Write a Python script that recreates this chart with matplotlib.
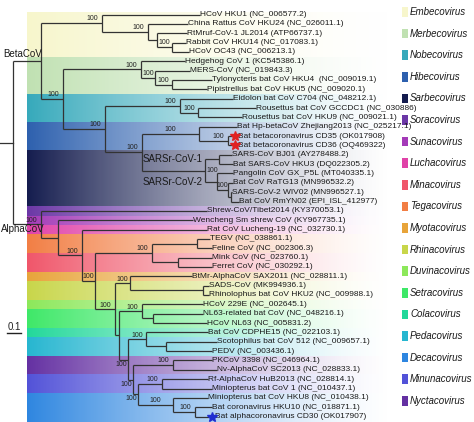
import matplotlib.pyplot as plt
import numpy as np
from matplotlib.colors import to_rgb
from matplotlib.patches import Rectangle

plt.rcParams['font.family'] = ['Liberation Sans', 'DejaVu Sans']

# tips, top to bottom
leaf_names = [
    "HCoV HKU1 (NC_006577.2)", "China Rattus CoV HKU24 (NC_026011.1)",
    "RtMruf-CoV-1 JL2014 (ATP66737.1)", "Rabbit CoV HKU14 (NC_017083.1)",
    "HCoV OC43 (NC_006213.1)", "Hedgehog CoV 1 (KC545386.1)",
    "MERS-CoV (NC_019843.3)", "Tylonycteris bat CoV HKU4  (NC_009019.1)",
    "Pipistrellus bat CoV HKU5 (NC_009020.1)", "Eidolon bat CoV C704 (NC_048212.1)",
    "Rousettus bat CoV GCCDC1 (NC_030886)", "Rousettus bat CoV HKU9 (NC_009021.1)",
    "Bat Hp-betaCoV Zhejiang2013 (NC_025217.1)", "Bat betacoronavirus CD35 (OK017908)",
    "Bat betacoronavirus CD36 (OQ469322)", "SARS-CoV BJ01 (AY278488.2)",
    "Bat SARS-CoV HKU3 (DQ022305.2)", "Pangolin CoV GX_P5L (MT040335.1)",
    "Bat CoV RaTG13 (MN996532.2)", "SARS-CoV-2 WIV02 (MN996527.1)",
    "Bat CoV RmYN02 (EPI_ISL_412977)", "Shrew-CoV/Tibet2014 (KY370053.1)",
    "Wencheng Sm shrew CoV (KY967735.1)", "Rat CoV Lucheng-19 (NC_032730.1)",
    "TEGV (NC_038861.1)", "Feline CoV (NC_002306.3)",
    "Mink CoV (NC_023760.1)", "Ferret CoV (NC_030292.1)",
    "BtMr-AlphaCoV SAX2011 (NC_028811.1)", "SADS-CoV (MK994936.1)",
    "Rhinolophus bat CoV HKU2 (NC_009988.1)", "HCoV 229E (NC_002645.1)",
    "NL63-related bat CoV (NC_048216.1)", "HCoV NL63 (NC_005831.2)",
    "Bat CoV CDPHE15 (NC_022103.1)", "Scotophilus bat CoV 512 (NC_009657.1)",
    "PEDV (NC_003436.1)", "PKCoV 3398 (NC_046964.1)",
    "Nv-AlphaCoV SC2013 (NC_028833.1)", "Rf-AlphaCoV HuB2013 (NC_028814.1)",
    "Miniopterus bat CoV 1 (NC_010437.1)", "Miniopterus bat CoV HKU8 (NC_010438.1)",
    "Bat coronavirus HKU10 (NC_018871.1)", "Bat alphacoronavirus CD30 (OK017907)",
]
# tip depth (scale bar 0.1 = 14 units)
leaf_tip = [200, 188, 187, 186, 189, 185, 190, 212, 207, 233, 256, 242, 237, 233, 233,
            232, 233, 233, 233, 232, 239,
            207, 193, 207, 210, 212, 212, 212, 192, 209, 209, 203, 203, 207, 208, 217,
            212, 212, 217, 208, 212, 208, 212, 210]
leaf_group = (['Embecovirus'] * 5 + ['Merbecovirus'] * 4 + ['Nobecovirus'] * 3 +
              ['Hibecovirus'] * 3 + ['Sarbecovirus'] * 6 +
              ['Soracovirus', 'Sunacovirus', 'Luchacovirus', 'Tegacovirus', 'Tegacovirus',
               'Minacovirus', 'Minacovirus', 'Myotacovirus', 'Rhinacovirus', 'Rhinacovirus',
               'Duvinacovirus', 'Setracovirus', 'Setracovirus', 'Colacovirus',
               'Pedacovirus', 'Pedacovirus', 'Nyctacovirus', 'Nyctacovirus',
               'Minunacovirus', 'Minunacovirus', 'Decacovirus', 'Decacovirus', 'Decacovirus'])
star_leaves = {13: '#e02222', 14: '#e02222', 43: '#1f2fd0'}

# internal nodes: depth, children, bootstrap label ('a' above, 'm' mid, 'b' below, 'r' right)
nodes = {
    'root': (13, ['beta', 'alpha'], None),
    'beta': (41, ['embe', 'b2'], None),
    'embe': (102, [0, 'e1'], 'a'),
    'e1': (148, [1, 'e2'], 'a'),
    'e2': (157, [2, 'e3'], None),
    'e3': (172, [3, 4], 'a'),
    'b2': (63, ['merb', 'b3'], 'a'),
    'merb': (141, [5, 'm1'], 'a'),
    'm1': (155, [6, 'm2'], 'a'),
    'm2': (172, [7, 8], 'a'),
    'b3': (105, ['nobe', 'b4'], 'a'),
    'nobe': (180, [9, 'n1'], 'a'),
    'n1': (198, [10, 11], 'a'),
    'b4': (142, ['hibe', 'sarb'], 'a'),
    'hibe': (199, [12, 'h1'], 'm'),
    'h1': (228, [13, 14], 'a'),
    'sarb': (205, ['s1', 's2'], 'r'),
    's1': (219, [15, 16], None),
    's2': (217, [17, 's3'], None),
    's3': (228, [18, 's4'], 'a'),
    's4': (231, [19, 20], None),
    'alpha': (41, [21, 'a1'], 'a'),
    'a1': (58, [22, 'a2'], None),
    'a2': (82, [23, 'a3'], 'a'),
    'a3': (95, ['a4', 'x'], 'a'),
    'a4': (152, ['tega', 'mina'], 'a'),
    'tega': (197, [24, 25], None),
    'mina': (178, [26, 27], None),
    'x': (115, ['myrh', 'y'], 'a'),
    'myrh': (130, [28, 'rhin'], 'a'),
    'rhin': (203, [29, 30], None),
    'y': (119, ['duse', 'z'], None),
    'duse': (142, [31, 'setr'], 'a'),
    'setr': (153, [32, 33], None),
    'z': (128, ['colp', 'w'], 'b'),
    'colp': (146, [34, 'peda'], 'a'),
    'peda': (166, [35, 36], None),
    'w': (133, ['nyct', 'v'], 'b'),
    'nyct': (173, [37, 38], 'a'),
    'v': (138, ['minu', 'deca'], 'b'),
    'minu': (162, [39, 40], 'a'),
    'deca': (173, [41, 'd1'], 'm'),
    'd1': (195, [42, 43], 'a'),
}

legend_names = ['Embecovirus', 'Merbecovirus', 'Nobecovirus', 'Hibecovirus', 'Sarbecovirus',
                'Soracovirus', 'Sunacovirus', 'Luchacovirus', 'Minacovirus', 'Tegacovirus',
                'Myotacovirus', 'Rhinacovirus', 'Duvinacovirus', 'Setracovirus', 'Colacovirus',
                'Pedacovirus', 'Decacovirus', 'Minunacovirus', 'Nyctacovirus']
legend_colors = ['#f7f6cc', '#c0e1b2', '#36a9bb', '#2d60ae', '#141c4e',
                 '#6b37a6', '#a43ab8', '#e042a8', '#f0566a', '#f27e44',
                 '#e8a43a', '#c8d64a', '#8ce85a', '#3ee868', '#22d89a',
                 '#26b6d0', '#2e86e0', '#5252d8', '#6430a2']
group_color = dict(zip(legend_names, legend_colors))

fig = plt.figure(figsize=(4.74, 4.22), dpi=100)
ax = fig.add_axes([0, 0, 1, 1])
ax.set_xlim(0, 474)
ax.set_ylim(422, 0)
ax.axis('off')

leaf_y = 14.5 + 9.35 * np.arange(len(leaf_names))

# coloured background bands fading to the right
x0, x1, ytop, ybot = 27, 395, 12, 422
rows = np.arange(ytop, ybot) + 0.5
idx = np.clip(np.round((rows - leaf_y[0]) / 9.35).astype(int), 0, len(leaf_names) - 1)
row_rgb = np.array([to_rgb(group_color[leaf_group[i]]) for i in idx])
t = np.linspace(0, 1, x1 - x0)
alpha = (1 - t) ** 1.4
img = np.zeros((len(rows), len(t), 4))
img[:, :, :3] = row_rgb[:, None, :]
img[:, :, 3] = alpha[None, :]
ax.imshow(img, extent=[x0, x1, ybot, ytop], aspect='auto', interpolation='bilinear', zorder=0)


def pos(n):
    if isinstance(n, int):
        return leaf_tip[n], leaf_y[n]
    ys = [pos(c)[1] for c in nodes[n][1]]
    return nodes[n][0], (min(ys) + max(ys)) / 2


lc = '#333333'
lw = 0.9
rx, ry = pos('root')
ax.plot([0, rx], [ry, ry], color=lc, lw=lw)
parent = {}
for name, (nx, kids, sup) in nodes.items():
    ys = [pos(c)[1] for c in kids]
    ax.plot([nx, nx], [min(ys), max(ys)], color=lc, lw=lw, solid_capstyle='butt')
    for c in kids:
        cx, cy = pos(c)
        ax.plot([nx, cx], [cy, cy], color=lc, lw=lw, solid_capstyle='butt')
        parent[c] = nx

# bootstrap values
for name, (nx, kids, sup) in nodes.items():
    if sup is None:
        continue
    _, ny = pos(name)
    px = parent[name]
    kw = dict(fontsize=5, color='#222222')
    if sup == 'a':
        ax.text(max(nx - 10, (px + nx) / 2), ny - 0.8, '100', ha='center', va='bottom', **kw)
    elif sup == 'm':
        ax.text((px + nx) / 2, ny - 0.8, '100', ha='center', va='bottom', **kw)
    elif sup == 'b':
        ax.text(nx - 0.5, ny + 1, '100', ha='right', va='top', **kw)
    elif sup == 'r':
        ax.text(nx + 1.5, ny, '100', ha='left', va='center', **kw)

# tip labels
for i, name in enumerate(leaf_names):
    if i in star_leaves:
        ax.plot(leaf_tip[i] + 2.5, leaf_y[i], marker='*', ms=7.5, color=star_leaves[i],
                mec=star_leaves[i], zorder=5)
        ax.text(leaf_tip[i] + 5.5, leaf_y[i], name, fontsize=6, va='center', ha='left',
                color='#1a1a1a')
    else:
        ax.text(leaf_tip[i] + 0.3, leaf_y[i], name, fontsize=6, va='center', ha='left',
                color='#1a1a1a')

# clade labels
bx, by = pos('beta')
ax.text(3, by - 7, 'BetaCoV', fontsize=7, va='center', ha='left', color='#1a1a1a')
axx, ayy = pos('alpha')
ax.text(0.5, ayy + 5, 'AlphaCoV', fontsize=7, va='center', ha='left', color='#1a1a1a')
sx = nodes['sarb'][0]
ax.text(sx - 2, pos('s1')[1], 'SARSr-CoV-1', fontsize=7, va='center', ha='right', color='#1a1a1a')
ax.text(sx - 2, pos('s2')[1], 'SARSr-CoV-2', fontsize=7, va='center', ha='right', color='#1a1a1a')

# scale bar
scale_len = 14
ax.plot([7, 7 + scale_len], [333, 333], color='#222222', lw=1)
ax.text(7 + scale_len / 2, 331.5, '0.1', fontsize=7, ha='center', va='bottom', color='#222222')

# legend
for k, (lab, col) in enumerate(zip(legend_names, legend_colors)):
    yk = 12 + k * 21.6
    ax.add_patch(Rectangle((402, yk - 4.8), 6, 9.6, facecolor=col, edgecolor='none'))
    ax.text(410, yk, lab, fontsize=7, style='italic', va='center', ha='left', color='#1a1a1a')

fig.savefig('out.png', dpi=100)
